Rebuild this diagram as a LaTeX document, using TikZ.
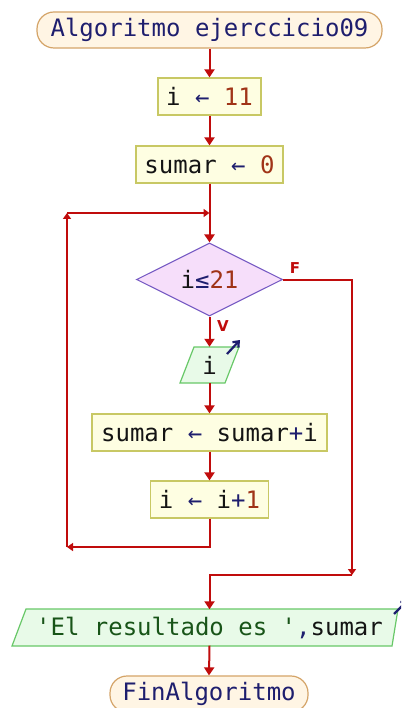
\documentclass[tikz,border=0pt]{standalone}
\usepackage{fontspec}
\setmonofont{DejaVu Sans Mono}
\setsansfont{DejaVu Sans}
\usetikzlibrary{shapes.geometric,arrows.meta}
\definecolor{flow}{RGB}{192,12,12}
\definecolor{boxfill}{RGB}{254,254,226}
\definecolor{boxline}{RGB}{200,200,100}
\definecolor{termfill}{RGB}{255,245,228}
\definecolor{termline}{RGB}{212,164,104}
\definecolor{decfill}{RGB}{246,222,250}
\definecolor{decline}{RGB}{120,92,196}
\definecolor{iofill}{RGB}{232,250,232}
\definecolor{ioline}{RGB}{104,200,104}
\definecolor{kw}{RGB}{30,30,110}
\definecolor{num}{RGB}{160,52,24}
\definecolor{var}{RGB}{20,20,20}
\definecolor{str}{RGB}{24,84,24}
\tikzset{
  txt/.style={font=\ttfamily\fontsize{24}{28}\selectfont, text=var, inner sep=0pt},
  termbox/.style={txt, draw=termline, fill=termfill, line width=1.2pt, rounded corners=17pt, minimum height=36pt},
  procbox/.style={txt, draw=boxline, fill=boxfill, line width=1.2pt, minimum height=37pt},
  decbox/.style={txt, diamond, aspect=2, draw=decline, fill=decfill, line width=1.1pt, minimum width=146pt, minimum height=73pt},
  iobox/.style={txt, minimum height=36pt},
  iopoly/.style={draw=ioline, fill=iofill, line width=1.2pt},
  flowline/.style={draw=flow, line width=2pt},
  flowarrow/.style={flowline, -{Triangle[width=10pt,length=8pt]}},
  smallarrow/.style={flowline, -{Triangle[width=8pt,length=6pt]}},
  lbl/.style={font=\sffamily\bfseries\fontsize{15}{17}\selectfont, text=flow, inner sep=0pt},
  ioarrow/.style={draw=kw, line width=2.2pt, -{Straight Barb[length=5pt,width=8pt]}}
}
\begin{document}
\begin{tikzpicture}[x=1pt,y=-1pt]
\clip (0,0) rectangle (401,708);
\fill[white] (0,0) rectangle (401,708);
% nodes
\node[termbox, minimum width=345pt] (start) at (209.5,30) {\textcolor{kw}{Algoritmo ejerccicio09}};
\node[procbox, minimum width=103pt] (b1) at (209.5,96.5) {i \textcolor{kw}{←} \textcolor{num}{11}};
\node[procbox, minimum width=147pt] (b2) at (209.5,164.5) {sumar \textcolor{kw}{←} \textcolor{num}{0}};
\node[decbox] (dec) at (209.5,279.5) {i\textcolor{kw}{≤}\textcolor{num}{21}};
\filldraw[iopoly] (194,347) -- (239,347) -- (225,383) -- (180,383) -- cycle;
\node[iobox, minimum width=45pt] (inp) at (209.5,365) {i};
\draw[ioarrow] (227,354) -- (240,340);
\node[procbox, minimum width=235pt] (b3) at (209.5,432.5) {sumar \textcolor{kw}{←} sumar\textcolor{kw}{+}i};
\node[procbox, minimum width=118pt] (b4) at (209.5,499.5) {i \textcolor{kw}{←} i\textcolor{kw}{+}\textcolor{num}{1}};
\filldraw[iopoly] (26,609) -- (398,609) -- (392,646) -- (12,646) -- cycle;
\node[iobox, minimum width=360pt] (out) at (209.5,627.5) {\textcolor{str}{'El resultado es '}\textcolor{kw}{,}sumar};
\draw[ioarrow] (394,614) -- (408,600);
\node[termbox, minimum width=198pt] (fin) at (209,694) {\textcolor{kw}{FinAlgoritmo}};
% coordinates
\coordinate (join) at (209.5,213);
\coordinate (loopbr) at (209.5,547);
\coordinate (loopbl) at (67,547);
\coordinate (looptl) at (67,213);
\coordinate (fr) at (352,279.5);
\coordinate (fb) at (352,575);
\coordinate (merge) at (209.5,575);
% connectors
\draw[flowarrow] (start.south) -- (b1.north);
\draw[flowarrow] (b1.south) -- (b2.north);
\draw[flowarrow] (b2.south) -- (dec.north);
\draw[flowarrow] (dec.south) -- (inp.north);
\draw[flowarrow] (inp.south) -- (b3.north);
\draw[flowarrow] (b3.south) -- (b4.north);
\draw[smallarrow] (b4.south) -- (loopbr) -- (loopbl);
\draw[smallarrow] (loopbl) -- (looptl);
\draw[smallarrow] (looptl) -- (join);
\draw[smallarrow] (dec.east) -- (fr) -- (fb);
\draw[flowarrow] (fb) -- (merge) -- (out.north);
\draw[flowarrow] (out.south) -- (fin.north);
% labels
\node[lbl] (lf) at (295,268) {F};
\node[lbl] (lv) at (223,326) {V};
\end{tikzpicture}
\end{document}
